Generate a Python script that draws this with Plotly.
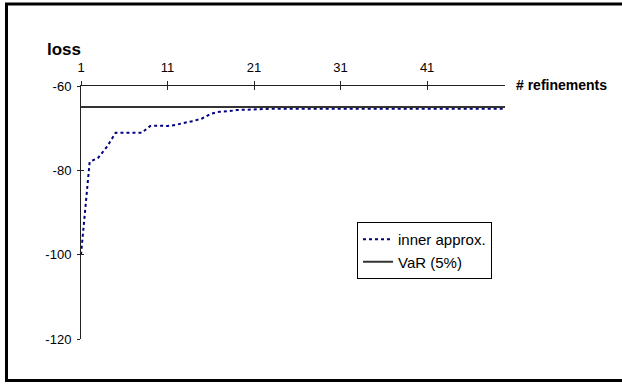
import plotly.graph_objects as go

refinements = list(range(1, 51))
inner_approx = [-100.0, -78.0, -77.0, -74.4, -71.1, -71.1, -71.2, -71.1, -69.5, -69.4,
                -69.5, -69.2, -68.7, -68.3, -67.7, -66.6, -66.1, -66.0, -65.7, -65.6,
                -65.5, -65.4, -65.4, -65.4, -65.4, -65.4, -65.4, -65.4, -65.4, -65.4,
                -65.4, -65.4, -65.4, -65.4, -65.4, -65.4, -65.4, -65.4, -65.4, -65.4,
                -65.4, -65.4, -65.4, -65.4, -65.4, -65.4, -65.4, -65.4, -65.4, -65.4]
var_level = -65.0
x_ticks = [1, 11, 21, 31, 41]
y_ticks = [-60, -80, -100, -120]
y_tick_labels = ["-60", "-80", "-100", "-120"]

FONT = "Liberation Sans, Arial, sans-serif"
W, H = 622, 384
L, R, T, B = 81, 117, 86, 45
pw, ph = W - L - R, H - T - B

def px2x(p):
    return (p - L) / pw

def py2y(p):
    return (H - B - p) / ph

fig = go.Figure()
fig.add_trace(go.Scatter(
    x=refinements, y=inner_approx, mode="lines", name="inner approx.",
    line=dict(color="#000080", width=2, dash="3px,3px"),
))
fig.add_trace(go.Scatter(
    x=[refinements[0], refinements[-1]], y=[var_level, var_level], mode="lines",
    name="VaR (5%)", line=dict(color="#333333", width=2),
))
# invisible trace to host the overlay axes (inner half of the cross ticks)
fig.add_trace(go.Scatter(x=[refinements[0]], y=[y_ticks[0]], xaxis="x2", yaxis="y2",
                         mode="markers", marker=dict(opacity=0), showlegend=False,
                         hoverinfo="skip"))

axis_common = dict(showgrid=False, zeroline=False, linecolor="#222222", linewidth=1,
                   tickcolor="#222222", tickwidth=1)
fig.update_layout(
    width=W, height=H,
    margin=dict(l=L, r=R, t=T, b=B, autoexpand=False),
    paper_bgcolor="white", plot_bgcolor="white",
    font=dict(family=FONT, size=13, color="black"),
    xaxis=dict(range=[1, 50], side="top", tickmode="array", tickvals=x_ticks,
               ticktext=[str(v) for v in x_ticks],
               ticks="outside", ticklen=4, showline=True, mirror=False,
               ticklabelstandoff=4, tickfont=dict(size=13), **axis_common),
    yaxis=dict(range=[-120, -60], tickmode="array", tickvals=y_ticks,
               ticktext=y_tick_labels, ticklabelstandoff=3,
               ticks="outside", ticklen=3, showline=True,
               tickfont=dict(size=13), **axis_common),
    xaxis2=dict(range=[1, 50], side="top", overlaying="x", tickmode="array",
                tickvals=x_ticks, ticks="inside", ticklen=4, showticklabels=False,
                showline=False, showgrid=False, zeroline=False, tickcolor="#222222"),
    yaxis2=dict(range=[-120, -60], overlaying="y", tickmode="array", tickvals=y_ticks,
                ticks="inside", ticklen=3, showticklabels=False, showline=False,
                showgrid=False, zeroline=False, tickcolor="#222222"),
    legend=dict(x=px2x(357), y=py2y(222), xanchor="left", yanchor="top",
                bordercolor="black", borderwidth=1, bgcolor="white",
                font=dict(size=15), tracegroupgap=0, itemwidth=30),
    showlegend=True,
    annotations=[
        dict(text="<b>loss</b>", xref="paper", yref="paper", x=px2x(45), y=py2y(50),
             xanchor="left", yanchor="middle", showarrow=False, font=dict(size=17)),
        dict(text="<b># refinements</b>", xref="paper", yref="paper", x=px2x(514),
             y=py2y(85), xanchor="left", yanchor="middle", showarrow=False,
             font=dict(size=14)),
    ],
    shapes=[dict(type="rect", xref="paper", yref="paper",
                 x0=px2x(6.5), x1=px2x(640), y0=py2y(380.5), y1=py2y(4),
                 line=dict(color="black", width=3), layer="below")],
)
fig.write_html("out.html")
